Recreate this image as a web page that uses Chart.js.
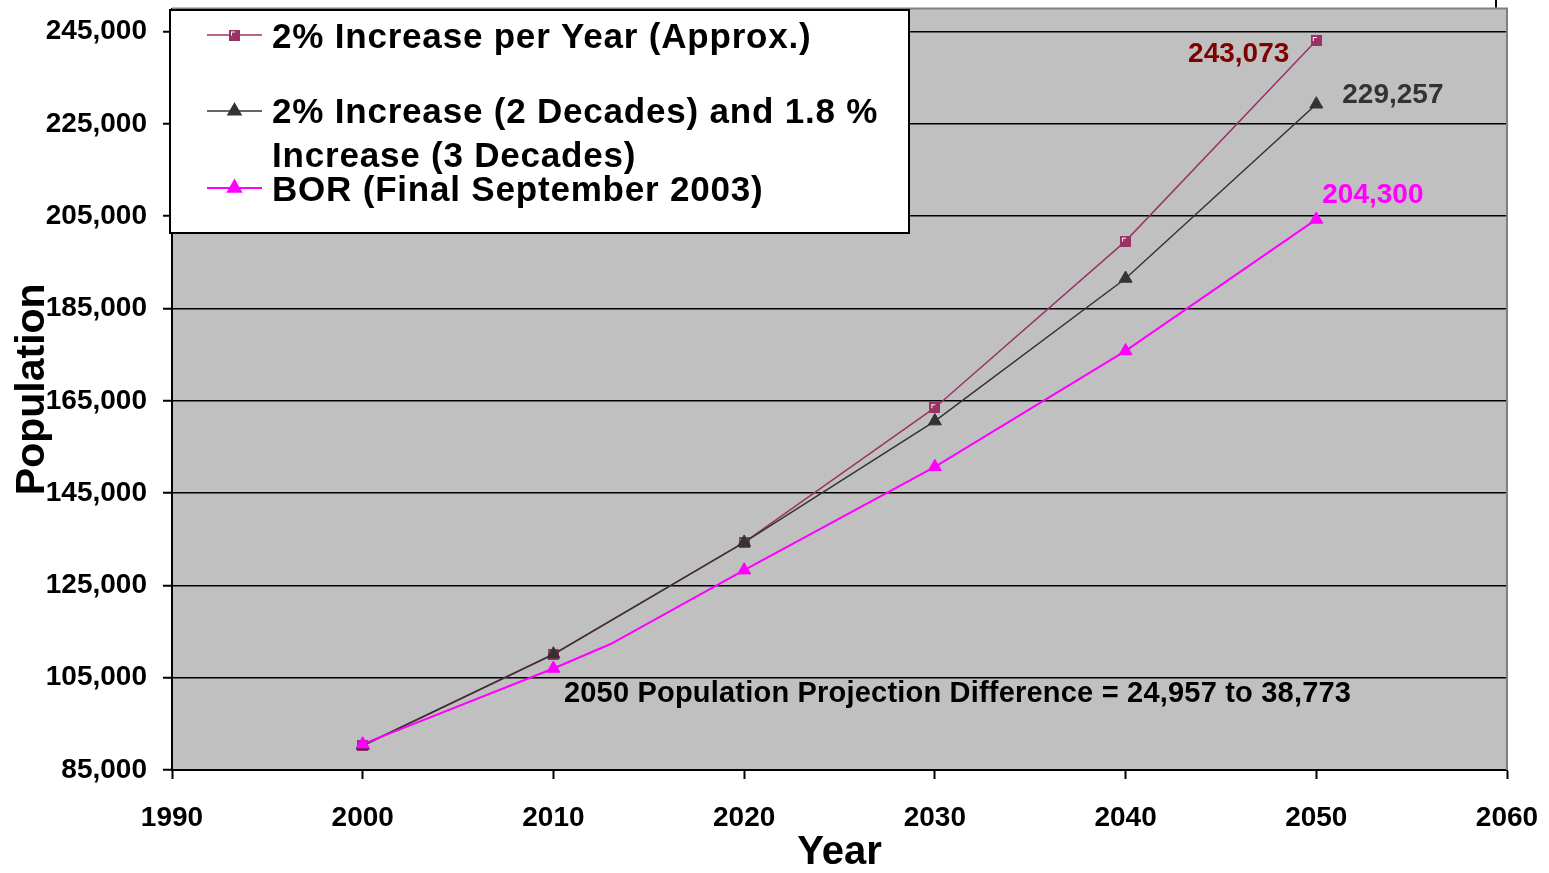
<!DOCTYPE html>
<html>
<head>
<meta charset="utf-8">
<title>Population Projections</title>
<script src="https://cdn.jsdelivr.net/npm/chart.js@4.4.1/dist/chart.umd.min.js"></script>
<style>
  html, body { margin: 0; padding: 0; background: #ffffff; }
  #wrap { width: 1549px; height: 873px; }
</style>
</head>
<body>
<div id="wrap"><canvas id="chart" width="1549" height="873"></canvas></div>
<script>
// ---- data ----
const years = [2000, 2010, 2020, 2030, 2040, 2050];
const steadyGrowth = [90250, 110000, 134300, 163500, 199600, 243073];
const mixedGrowth = [90300, 110100, 134300, 160600, 191500, 229257];
const borYears = [2000, 2010, 2013, 2020, 2030, 2040, 2050];
const borProjection = [90600, 107000, 112300, 128300, 150700, 175800, 204300];
const yTickValues = [85000, 105000, 125000, 145000, 165000, 185000, 205000, 225000, 245000];
const xTickValues = [1990, 2000, 2010, 2020, 2030, 2040, 2050, 2060];
const seriesNames = [
  ['2% Increase per Year (Approx.)'],
  ['2% Increase (2 Decades) and 1.8 %', 'Increase (3 Decades)'],
  ['BOR (Final September 2003)']
];
const noteText = '2050 Population Projection Difference = 24,957 to 38,773';
const noteAnchor = { x: 2010.55, y: 101900 };

// ---- styles ----
const FONT = '"Liberation Sans", Arial, Helvetica, sans-serif';
const MAROON = '#993366';
const DARK = '#333333';
const MAGENTA = '#FF00FF';

// Square marker with the small white corner mark
function squareMarker(size) {
  const c = document.createElement('canvas');
  c.width = size; c.height = size;
  const g = c.getContext('2d');
  g.fillStyle = MAROON;
  g.fillRect(0, 0, size, size);
  g.fillStyle = '#ffffff';
  g.fillRect(2, 2, 4, 1);
  g.fillRect(2, 2, 1, 4);
  return c;
}
const sq = squareMarker(11);

const fmt = v => Math.round(v).toLocaleString('en-US');
const pts = (xs, ys) => xs.map((x, i) => ({ x, y: ys[i] }));

// Plot background, frame, legend, value labels and note
const decorations = {
  id: 'decorations',
  beforeDraw(chart) {
    const { ctx, chartArea: a } = chart;
    ctx.save();
    ctx.fillStyle = '#ffffff';
    ctx.fillRect(0, 0, chart.width, chart.height);
    ctx.fillStyle = '#C0C0C0';
    ctx.fillRect(a.left, a.top, a.right - a.left, a.bottom - a.top);
    ctx.restore();
  },
  beforeDatasetsDraw(chart) {
    const { ctx, chartArea: a } = chart;
    ctx.save();
    ctx.strokeStyle = '#808080';
    ctx.lineWidth = 2;
    ctx.beginPath();
    ctx.moveTo(a.left, a.top);
    ctx.lineTo(a.right, a.top);
    ctx.lineTo(a.right, a.bottom);
    ctx.stroke();
    // outer frame fragment at the top right
    ctx.strokeStyle = '#000000';
    ctx.beginPath();
    ctx.moveTo(a.right - 11, 0);
    ctx.lineTo(a.right - 11, a.top - 1);
    ctx.stroke();
    ctx.restore();
  },
  afterDraw(chart) {
    const { ctx, scales: { x, y } } = chart;
    ctx.save();

    // value labels at 2050
    ctx.font = 'bold 28px ' + FONT;
    ctx.textBaseline = 'alphabetic';
    const last = years.length - 1;
    let px = x.getPixelForValue(years[last]);
    let py = y.getPixelForValue(steadyGrowth[last]);
    ctx.fillStyle = '#800000';
    ctx.textAlign = 'right';
    ctx.fillText(fmt(steadyGrowth[last]), px - 27, py + 22);

    py = y.getPixelForValue(mixedGrowth[last]);
    ctx.fillStyle = DARK;
    ctx.textAlign = 'left';
    ctx.fillText(fmt(mixedGrowth[last]), px + 26, py - 1);

    const bl = borYears.length - 1;
    px = x.getPixelForValue(borYears[bl]);
    py = y.getPixelForValue(borProjection[bl]);
    ctx.fillStyle = MAGENTA;
    ctx.fillText(fmt(borProjection[bl]), px + 6, py - 16);

    // note
    ctx.fillStyle = '#000000';
    ctx.font = 'bold 29px ' + FONT;
    ctx.letterSpacing = '0.2px';
    ctx.textAlign = 'left';
    ctx.fillText(noteText, x.getPixelForValue(noteAnchor.x), y.getPixelForValue(noteAnchor.y) + 10);

    // legend box
    const box = { l: 170, t: 10, w: 739, h: 223 };
    ctx.fillStyle = '#ffffff';
    ctx.fillRect(box.l, box.t, box.w, box.h);
    ctx.strokeStyle = '#000000';
    ctx.lineWidth = 2;
    ctx.strokeRect(box.l, box.t, box.w, box.h);

    const markerY = [35, 111, 188];
    const baselines = [[48], [123, 167], [201]];
    const colors = [MAROON, DARK, MAGENTA];
    ctx.font = 'bold 35px ' + FONT;
    ctx.letterSpacing = '0.8px';
    ctx.textAlign = 'left';
    for (let i = 0; i < 3; i++) {
      ctx.strokeStyle = colors[i];
      ctx.lineWidth = i === 2 ? 2 : 1.5;
      ctx.beginPath();
      ctx.moveTo(207, markerY[i]);
      ctx.lineTo(262, markerY[i]);
      ctx.stroke();
      if (i === 0) {
        ctx.drawImage(sq, 234.5 - 5.5, markerY[i] - 5.5);
      } else {
        ctx.fillStyle = colors[i];
        ctx.strokeStyle = colors[i];
        Chart.helpers.drawPoint(ctx, { pointStyle: 'triangle', radius: 7.5, borderWidth: 1, rotation: 0 }, 234.5, markerY[i]);
      }
      ctx.fillStyle = '#000000';
      seriesNames[i].forEach((line, j) => ctx.fillText(line, 272, baselines[i][j]));
    }
    ctx.restore();
  }
};

new Chart(document.getElementById('chart'), {
  type: 'line',
  data: {
    datasets: [
      {
        label: seriesNames[0].join(' '),
        data: pts(years, steadyGrowth),
        borderColor: MAROON,
        borderWidth: 1.5,
        pointStyle: sq,
        pointRadius: 6,
        order: 3
      },
      {
        label: seriesNames[1].join(' '),
        data: pts(years, mixedGrowth),
        borderColor: DARK,
        borderWidth: 1.5,
        pointStyle: 'triangle',
        pointRadius: 7.5,
        pointBorderWidth: 1,
        pointBackgroundColor: DARK,
        pointBorderColor: DARK,
        order: 2
      },
      {
        label: seriesNames[2].join(' '),
        data: pts(borYears, borProjection),
        borderColor: MAGENTA,
        borderWidth: 2,
        pointStyle: 'triangle',
        pointRadius: borYears.map(v => (v % 10 === 0 ? 7.5 : 0)),
        pointBorderWidth: 1,
        pointBackgroundColor: MAGENTA,
        pointBorderColor: MAGENTA,
        order: 1
      }
    ]
  },
  options: {
    responsive: false,
    animation: false,
    devicePixelRatio: 1,
    layout: { padding: { left: 0, right: 42, top: 8, bottom: 0 } },
    elements: { line: { tension: 0, fill: false } },
    plugins: { legend: { display: false }, tooltip: { enabled: false } },
    scales: {
      x: {
        type: 'linear',
        min: 1990,
        max: 2060,
        afterBuildTicks: s => { s.ticks = xTickValues.map(v => ({ value: v })); },
        afterFit: s => { s.height = 103; s.paddingLeft = 0; s.paddingRight = 0; },
        ticks: {
          autoSkip: false,
          maxRotation: 0,
          padding: 22,
          color: '#000000',
          font: { family: FONT, size: 28, weight: 'bold' },
          callback: v => String(v)
        },
        grid: { drawOnChartArea: false, drawTicks: true, tickLength: 9, tickColor: '#000000', tickWidth: 2 },
        border: { color: '#000000', width: 2 },
        title: {
          display: true,
          text: 'Year',
          color: '#000000',
          font: { family: FONT, size: 40, weight: 'bold', lineHeight: 1 },
          padding: { top: 0, bottom: 0 }
        }
      },
      y: {
        type: 'linear',
        min: 85000,
        max: 250000,
        afterBuildTicks: s => { s.ticks = yTickValues.map(v => ({ value: v })); },
        afterFit: s => { s.width = 172; s.paddingTop = 0; s.paddingBottom = 0; },
        ticks: {
          autoSkip: false,
          padding: 16,
          color: '#000000',
          font: { family: FONT, size: 28, weight: 'bold' },
          callback: v => fmt(v)
        },
        grid: { color: '#000000', lineWidth: 1.5, drawTicks: true, tickLength: 9, tickColor: '#000000', tickWidth: 2 },
        border: { color: '#000000', width: 2 },
        title: {
          display: true,
          text: 'Population',
          color: '#000000',
          font: { family: FONT, size: 41, weight: 'bold', lineHeight: 1 },
          padding: { top: 12, bottom: 0 }
        }
      }
    }
  },
  plugins: [decorations]
});
</script>
</body>
</html>
